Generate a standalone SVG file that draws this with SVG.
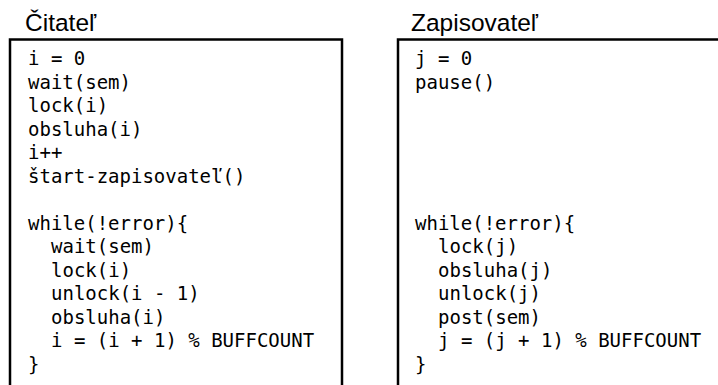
<svg xmlns="http://www.w3.org/2000/svg" width="718" height="385" viewBox="0 0 718 385">
<style>
.box{fill:#fff;stroke:#000;stroke-width:2.5}
.head{font-family:"Liberation Sans",Arial,sans-serif;font-size:24.5px;fill:#000}
.code{font-family:"DejaVu Sans Mono","Liberation Mono",monospace;font-size:19px;fill:#000}
</style>
<rect width="718" height="385" fill="#fff"/>
<g id="citatel">
<text class="head" x="25" y="31">Čitateľ</text>
<rect class="box" x="10" y="39.5" width="332" height="360"/>
<text class="code">
<tspan x="28" y="65">i = 0</tspan>
<tspan x="28" y="88.5">wait(sem)</tspan>
<tspan x="28" y="112">lock(i)</tspan>
<tspan x="28" y="135.5">obsluha(i)</tspan>
<tspan x="28" y="159">i++</tspan>
<tspan x="28" y="182.5">štart-zapisovateľ()</tspan>
<tspan x="28" y="229.5">while(!error){</tspan>
<tspan x="51" y="253">wait(sem)</tspan>
<tspan x="51" y="276.5">lock(i)</tspan>
<tspan x="51" y="300">unlock(i - 1)</tspan>
<tspan x="51" y="323.5">obsluha(i)</tspan>
<tspan x="51" y="347">i = (i + 1) % BUFFCOUNT</tspan>
<tspan x="28" y="370.5">}</tspan>
</text>
</g>
<g id="zapisovatel">
<text class="head" x="411" y="31">Zapisovateľ</text>
<rect class="box" x="398" y="39.5" width="340" height="360"/>
<text class="code">
<tspan x="415" y="65">j = 0</tspan>
<tspan x="415" y="88.5">pause()</tspan>
<tspan x="415" y="229.5">while(!error){</tspan>
<tspan x="438" y="253">lock(j)</tspan>
<tspan x="438" y="276.5">obsluha(j)</tspan>
<tspan x="438" y="300">unlock(j)</tspan>
<tspan x="438" y="323.5">post(sem)</tspan>
<tspan x="438" y="347">j = (j + 1) % BUFFCOUNT</tspan>
<tspan x="415" y="370.5">}</tspan>
</text>
</g>
</svg>
